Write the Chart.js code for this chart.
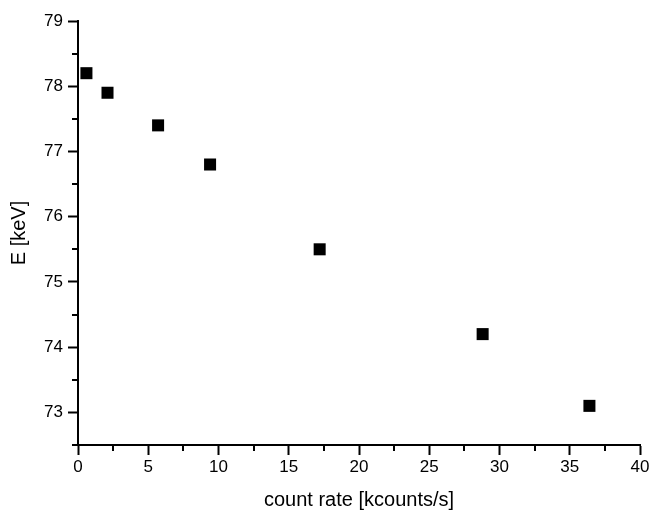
<!DOCTYPE html>
<html>
<head>
<meta charset="utf-8">
<script src="https://cdn.jsdelivr.net/npm/chart.js@4"></script>
<style>
  body { margin: 0; background: #fff; }
  #wrap { width: 654px; height: 516px; }
</style>
</head>
<body>
<div id="wrap"><canvas id="myChart"></canvas></div>
<script>
// data
const countRate = [0.6, 2.1, 5.7, 9.4, 17.2, 28.8, 36.4];
const energy = [78.2, 77.9, 77.4, 76.8, 75.5, 74.2, 73.1];
const xTicks = [0, 5, 10, 15, 20, 25, 30, 35, 40];
const yTicks = [73, 74, 75, 76, 77, 78, 79];

const points = countRate.map((x, i) => ({ x: x, y: energy[i] }));

// small minor ticks halfway between the labelled ones
const minorTicks = {
  id: 'minorTicks',
  afterDraw(chart) {
    const c = chart.ctx;
    const xs = chart.scales.x, ys = chart.scales.y;
    c.save();
    c.strokeStyle = '#000';
    c.lineWidth = 2;
    c.beginPath();
    for (let v = 2.5; v < 40; v += 5) {
      const px = Math.round(xs.getPixelForValue(v));
      c.moveTo(px, xs.top);
      c.lineTo(px, xs.top + 6);
    }
    for (let v = 72.5; v < 79; v += 1) {
      const py = Math.round(ys.getPixelForValue(v));
      c.moveTo(ys.right, py);
      c.lineTo(ys.right - 6, py);
    }
    c.stroke();
    c.restore();
  }
};

const ctx = document.getElementById('myChart');
new Chart(ctx, {
  type: 'scatter',
  data: {
    datasets: [{
      data: points,
      pointStyle: 'rect',
      pointRadius: 8.5,
      pointHoverRadius: 8.5,
      backgroundColor: '#000',
      borderColor: '#000',
      borderWidth: 0
    }]
  },
  options: {
    responsive: true,
    maintainAspectRatio: false,
    animation: false,
    layout: { padding: { left: 0, right: 14, top: 21, bottom: 0 } },
    plugins: {
      legend: { display: false },
      tooltip: { enabled: false }
    },
    scales: {
      x: {
        type: 'linear',
        min: 0,
        max: 40,
        afterBuildTicks: s => { s.ticks = xTicks.map(v => ({ value: v })); },
        afterFit: s => { s.height = 71; },
        grid: { drawOnChartArea: false, drawTicks: true, tickLength: 10, tickWidth: 2, tickColor: '#000' },
        border: { display: true, color: '#000', width: 2 },
        ticks: { color: '#000', font: { family: 'Liberation Sans', size: 17 }, padding: 2, maxRotation: 0 },
        title: { display: true, text: 'count rate [kcounts/s]', color: '#000', font: { family: 'Liberation Sans', size: 20 }, padding: { top: 6 } }
      },
      y: {
        type: 'linear',
        min: 72.5,
        max: 79,
        afterBuildTicks: s => { s.ticks = yTicks.map(v => ({ value: v })); },
        afterFit: s => { s.width = 78; },
        grid: { drawOnChartArea: false, drawTicks: true, tickLength: 10, tickWidth: 2, tickColor: '#000' },
        border: { display: true, color: '#000', width: 2 },
        ticks: { color: '#000', font: { family: 'Liberation Sans', size: 17 }, padding: 5 },
        title: { display: true, text: 'E [keV]', color: '#000', font: { family: 'Liberation Sans', size: 20 }, padding: { top: 7, bottom: 0 } }
      }
    }
  },
  plugins: [minorTicks]
});
</script>
</body>
</html>
